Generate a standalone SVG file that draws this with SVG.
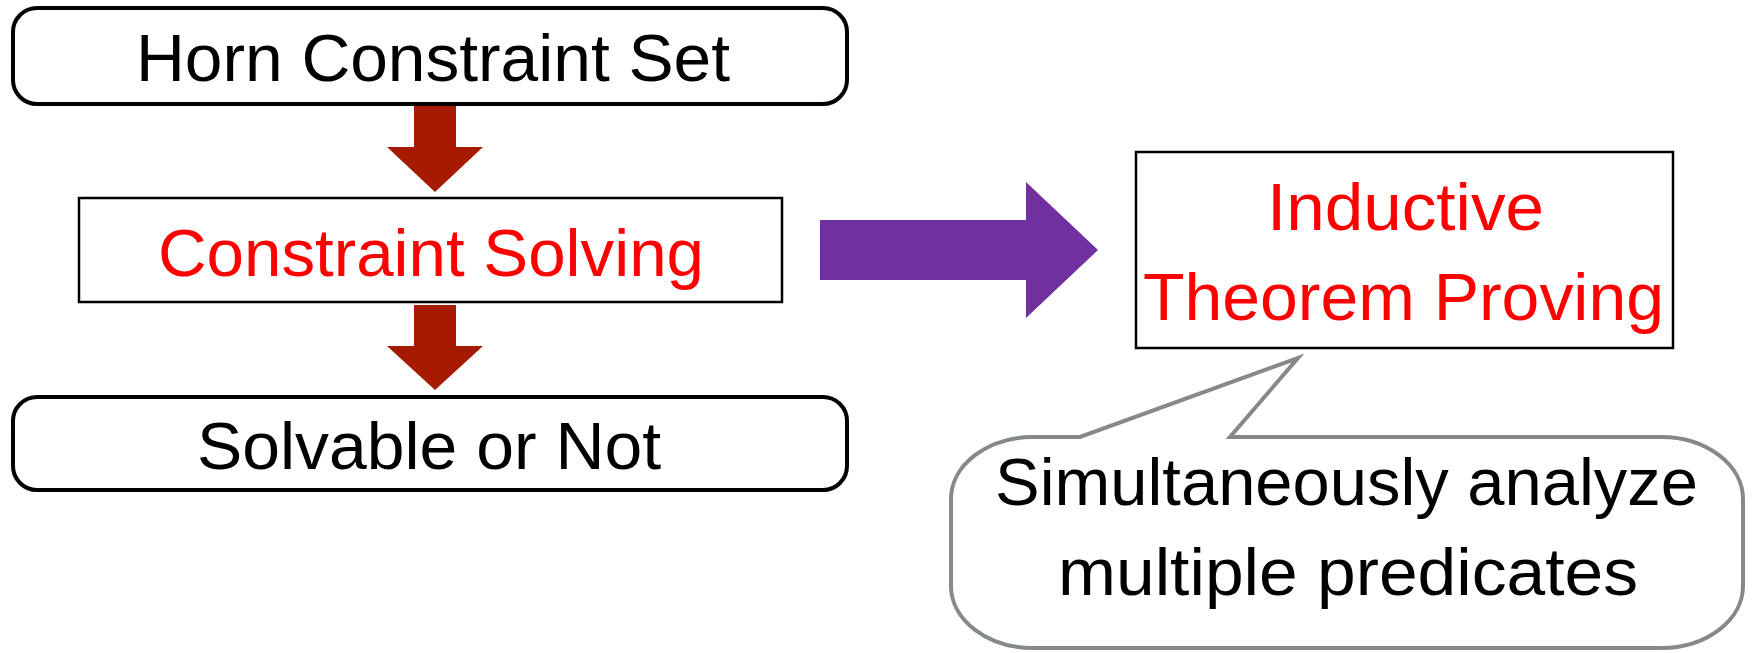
<svg xmlns="http://www.w3.org/2000/svg" width="1754" height="653" viewBox="0 0 1754 653">
  <style>
    .lbl { font-family: "Liberation Sans", Arial, sans-serif; font-size: 66.5px; text-anchor: middle; }
    .black { fill: #000000; }
    .red { fill: #FF0000; }
    .term { fill: #FFFFFF; stroke: #000000; stroke-width: 4; }
    .step { fill: #FFFFFF; stroke: #000000; stroke-width: 2.5; }
    .down { fill: #A61B00; }
    .big { fill: #7030A0; }
    .note { fill: #FFFFFF; stroke: #858A86; stroke-width: 4; stroke-linejoin: miter; }
  </style>
  <rect width="1754" height="653" fill="#FFFFFF"/>

  <!-- flow connectors -->
  <g id="connectors">
    <polygon class="down" points="414,105 456,105 456,147 483,147 435,192 387,147 414,147"/>
    <polygon class="down" points="414,305 456,305 456,346 483,346 435,390 387,346 414,346"/>
    <polygon class="big" points="820,220 1026,220 1026,182 1098,250 1026,318 1026,280 820,280"/>
  </g>

  <g id="horn-set">
    <rect class="term" x="13" y="8" width="834" height="96" rx="24" ry="24"/>
    <text class="lbl black" x="433" y="81" textLength="594" lengthAdjust="spacingAndGlyphs">Horn Constraint Set</text>
  </g>

  <g id="constraint-solving">
    <rect class="step" x="79" y="198" width="703" height="104"/>
    <text class="lbl red" x="431" y="276" textLength="546" lengthAdjust="spacingAndGlyphs">Constraint Solving</text>
  </g>

  <g id="solvable">
    <rect class="term" x="13" y="397" width="834" height="93" rx="24" ry="24"/>
    <text class="lbl black" x="429" y="469" textLength="464" lengthAdjust="spacingAndGlyphs">Solvable or Not</text>
  </g>

  <g id="inductive">
    <rect class="step" x="1136" y="152" width="537" height="196"/>
    <text class="lbl red" x="1405.5" y="230" textLength="277" lengthAdjust="spacingAndGlyphs">Inductive</text>
    <text class="lbl red" x="1403.5" y="320" textLength="521" lengthAdjust="spacingAndGlyphs">Theorem Proving</text>
  </g>

  <g id="callout">
    <path class="note" d="M 1033,437 L 1080,437 L 1298,358 L 1230,437 L 1661,437 A 82 62 0 0 1 1743,499 L 1743,586 A 82 62 0 0 1 1661,648 L 1033,648 A 82 62 0 0 1 951,586 L 951,499 A 82 62 0 0 1 1033,437 Z"/>
    <text class="lbl black" x="1346.5" y="505" textLength="703" lengthAdjust="spacingAndGlyphs">Simultaneously analyze</text>
    <text class="lbl black" x="1348" y="595" textLength="580" lengthAdjust="spacingAndGlyphs">multiple predicates</text>
  </g>
</svg>
